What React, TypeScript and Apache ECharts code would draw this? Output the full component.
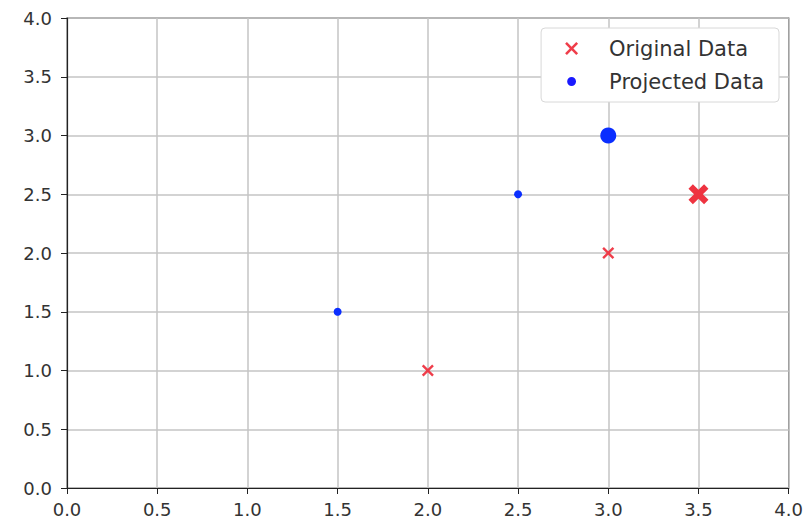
import React, { useEffect, useRef } from "react";
import * as echarts from "echarts";

const originalX = [2, 3, 3, 3.5];
const originalY = [1, 2, 3, 2.5];
const originalBig = [false, false, false, true];
const projectedX = [1.5, 2.5, 3];
const projectedY = [1.5, 2.5, 3];
const projectedBig = [false, false, true];
const axisTicks = [0, 0.5, 1, 1.5, 2, 2.5, 3, 3.5, 4];

const THIN_X = "path://M0,1.4 L1.4,0 L5,3.6 L8.6,0 L10,1.4 L6.4,5 L10,8.6 L8.6,10 L5,6.4 L1.4,10 L0,8.6 L3.6,5 Z";
const THICK_X = "path://M0,2.2 L2.2,0 L5,2.8 L7.8,0 L10,2.2 L7.2,5 L10,7.8 L7.8,10 L5,7.2 L2.2,10 L0,7.8 L2.8,5 Z";
const LEGEND_DOT = "path://M0,0 L0.01,0 L0,0.01 Z M10,10 L9.99,10 L10,9.99 Z M8.4,5 A3.4,3.4 0 1 1 1.6,5 A3.4,3.4 0 1 1 8.4,5 Z";

export default function App() {
  const ref = useRef<HTMLDivElement>(null);
  useEffect(() => {
    if (!ref.current) return;
    const chart = echarts.init(ref.current, null, { renderer: "svg" });
    const font = "DejaVu Sans";
    const axisCommon = {
      type: "value" as const,
      min: axisTicks[0],
      max: axisTicks[axisTicks.length - 1],
      interval: 0.5,
      axisLine: { show: true, onZero: false, lineStyle: { color: "#222", width: 1.2 } },
      axisTick: { show: true, inside: false, length: 6, lineStyle: { color: "#222" } },
      axisLabel: {
        color: "#333",
        fontSize: 18,
        fontFamily: font,
        formatter: (v: number) => v.toFixed(1),
      },
      splitLine: { show: true, lineStyle: { color: "#c4c4c4", width: 1.5 } },
    };
    chart.setOption({
      animation: false,
      backgroundColor: "#ffffff",
      grid: {
        left: 67,
        top: 18,
        right: 17,
        bottom: 36,
        show: true,
        borderColor: "#222",
        borderWidth: 1.2,
      },
      xAxis: { ...axisCommon, axisLabel: { ...axisCommon.axisLabel, margin: 12 } },
      yAxis: { ...axisCommon, axisLabel: { ...axisCommon.axisLabel, margin: 15 } },
      legend: {
        right: 27,
        top: 28,
        orient: "vertical",
        backgroundColor: "#ffffff",
        borderColor: "#d8d8d8",
        borderWidth: 1,
        borderRadius: 4,
        padding: [10, 15, 10, 24],
        itemGap: 12,
        itemWidth: 13,
        itemHeight: 13,
        textStyle: {
          fontSize: 21,
          fontFamily: font,
          color: "#333",
          lineHeight: 20,
          padding: [0, 0, 0, 26],
        },
        data: [
          { name: "Original Data", icon: THIN_X, itemStyle: { color: "#ee3340" } },
          { name: "Projected Data", icon: LEGEND_DOT, itemStyle: { color: "#1a1aff" } },
        ],
      },
      series: [
        {
          name: "Original Data",
          type: "scatter",
          symbol: THIN_X,
          symbolSize: 12,
          itemStyle: { color: "#ee3340", opacity: 0.95 },
          z: 2,
          data: originalX.map((x, i) =>
            originalBig[i]
              ? { value: [x, originalY[i]], symbol: THICK_X, symbolSize: 20, itemStyle: { opacity: 1 } }
              : { value: [x, originalY[i]] }
          ),
        },
        {
          name: "Projected Data",
          type: "scatter",
          symbol: "circle",
          symbolSize: 8,
          itemStyle: { color: "#0a2eff", opacity: 1 },
          z: 3,
          data: projectedX.map((x, i) =>
            projectedBig[i]
              ? { value: [x, projectedY[i]], symbolSize: 16 }
              : { value: [x, projectedY[i]] }
          ),
        },
      ],
    });
    return () => chart.dispose();
  }, []);
  return <div ref={ref} style={{ width: 806, height: 524, position: "absolute", left: 0, top: 0 }} />;
}
